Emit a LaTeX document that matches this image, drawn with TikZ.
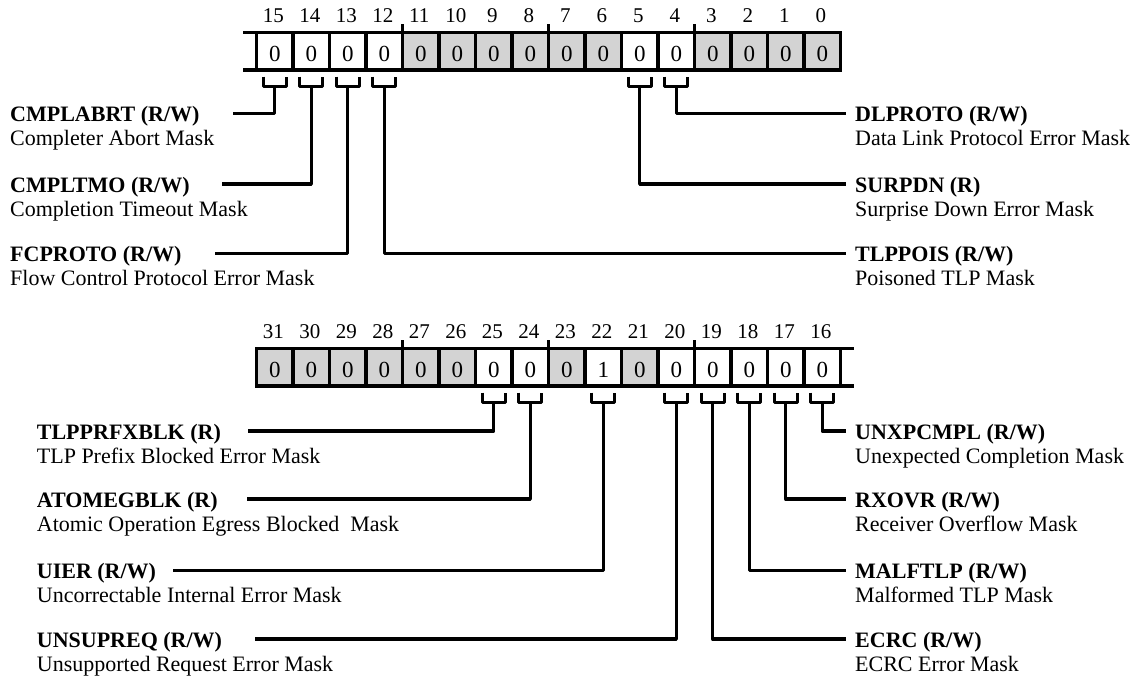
\documentclass[tikz,border=0pt]{standalone}
\usepackage{fontspec}
\setmainfont{Liberation Serif}
\definecolor{regGray}{RGB}{211,211,211}
\begin{document}
\begin{tikzpicture}[x=1pt,y=-1pt,
  reg/.style={line width=3.6pt},
  lead/.style={line width=3.4pt, line join=round},
  cellw/.style={draw, line width=3.6pt, fill=white, minimum width=36.5pt, minimum height=37.7pt,
     inner sep=0pt, outer sep=0pt, text height=19.7pt, text depth=0pt, font=\fontsize{23}{26}\selectfont},
  cellg/.style={cellw, fill=regGray},
  bitnum/.style={anchor=base, inner sep=0pt, font=\fontsize{21}{24}\selectfont},
  fname/.style={anchor=base west, inner sep=0pt, font=\fontsize{22}{24}\selectfont\bfseries},
  fdesc/.style={anchor=base west, inner sep=0pt, font=\fontsize{22}{24}\selectfont},
]
\useasboundingbox (0,0) rectangle (1133,680);

% ---------- upper register (bits 15..0) ----------
\foreach \b/\s in {15/cellw,14/cellw,13/cellw,12/cellw,11/cellg,10/cellg,9/cellg,8/cellg,
                   7/cellg,6/cellg,5/cellw,4/cellw,3/cellg,2/cellg,1/cellg,0/cellg}{
  \pgfmathsetmacro\cx{256.5+(15-\b+0.5)*36.5}
  \node[\s] (t\b) at (\cx,51.15) {0};
  \node[bitnum] (tn\b) at (\cx-1.5,22.5) {\b};
}
\draw[reg] ([xshift=-13.5pt]t15.north west) -- (t15.north west);
\draw[reg] ([xshift=-13.5pt]t15.south west) -- (t15.south west);
\foreach \b in {12,8,4}{
  \draw[reg] (t\b.north east) -- ++(0,-8.3);
}

% ---------- lower register (bits 31..16) ----------
\foreach \b/\s/\v in {31/cellg/0,30/cellg/0,29/cellg/0,28/cellg/0,27/cellg/0,26/cellg/0,
                      25/cellw/0,24/cellw/0,23/cellg/0,22/cellw/1,21/cellg/0,20/cellw/0,
                      19/cellw/0,18/cellw/0,17/cellw/0,16/cellw/0}{
  \pgfmathsetmacro\cx{256.5+(31-\b+0.5)*36.5}
  \node[\s] (u\b) at (\cx,367.15) {\v};
  \node[bitnum] (un\b) at (\cx-1.5,338.5) {\b};
}
\draw[reg] (u16.north east) -- ([xshift=13.5pt]u16.north east);
\draw[reg] (u16.south east) -- ([xshift=13.5pt]u16.south east);
\foreach \b in {28,24,20}{
  \draw[reg] (u\b.north east) -- ++(0,-8.3);
}

% ---------- brackets under the cells ----------
\foreach \b in {15,14,13,12,5,4}{
  \draw[lead] ([xshift=-11.5pt,yshift=-6.7pt]t\b.south) -- ++(0,10) -- ++(23,0) -- ++(0,-10);
  \coordinate (ts\b) at ([yshift=-16.7pt]t\b.south);
}
\foreach \b in {25,24,22,20,19,18,17,16}{
  \draw[lead] ([xshift=-11.5pt,yshift=-6.7pt]u\b.south) -- ++(0,10) -- ++(23,0) -- ++(0,-10);
  \coordinate (us\b) at ([yshift=-16.7pt]u\b.south);
}

% ---------- upper register fields ----------
% left side
\node[fname] (n15) at (10,121.9) {CMPLABRT (R/W)};
\node[fdesc] (d15) at (10,145.9) {Completer Abort Mask};
\coordinate (e15) at (233,113.5);
\node[fname] (n14) at (10,192.4) {CMPLTMO (R/W)};
\node[fdesc] (d14) at (10,216.4) {Completion Timeout Mask};
\coordinate (e14) at (222,184);
\node[fname] (n13) at (10,261.9) {FCPROTO (R/W)};
\node[fdesc] (d13) at (10,285.9) {Flow Control Protocol Error Mask};
\coordinate (e13) at (215,253.5);
% right side
\node[fname] (n4) at (855,121.9) {DLPROTO (R/W)};
\node[fdesc] (d4) at (855,145.9) {Data Link Protocol Error Mask};
\coordinate (e4) at (846,113.5);
\node[fname] (n5) at (855,192.4) {SURPDN (R)};
\node[fdesc] (d5) at (855,216.4) {Surprise Down Error Mask};
\coordinate (e5) at (846,184);
\node[fname] (n12) at (855,261.9) {TLPPOIS (R/W)};
\node[fdesc] (d12) at (855,285.9) {Poisoned TLP Mask};
\coordinate (e12) at (846,253.5);

\foreach \b in {15,14,13,12,5,4}{
  \draw[lead] (ts\b) |- (e\b);
}

% ---------- lower register fields ----------
% left side
\node[fname] (n25) at (36.7,439.4) {TLPPRFXBLK (R)};
\node[fdesc] (d25) at (36.7,463.4) {TLP Prefix Blocked Error Mask};
\coordinate (e25) at (248,431);
\node[fname] (n24) at (36.7,507.4) {ATOMEGBLK (R)};
\node[fdesc] (d24) at (36.7,531.4) {Atomic Operation Egress Blocked\ \ Mask};
\coordinate (e24) at (247,499);
\node[fname] (n22) at (36.7,578.9) {UIER (R/W)};
\node[fdesc] (d22) at (36.7,602.9) {Uncorrectable Internal Error Mask};
\coordinate (e22) at (173,570.5);
\node[fname] (n20) at (36.7,647.4) {UNSUPREQ (R/W)};
\node[fdesc] (d20) at (36.7,671.4) {Unsupported Request Error Mask};
\coordinate (e20) at (255,639);
% right side
\node[fname] (n16) at (855,439.4) {UNXPCMPL (R/W)};
\node[fdesc] (d16) at (855,463.4) {Unexpected Completion Mask};
\coordinate (e16) at (846,431);
\node[fname] (n17) at (855,507.4) {RXOVR (R/W)};
\node[fdesc] (d17) at (855,531.4) {Receiver Overflow Mask};
\coordinate (e17) at (846,499);
\node[fname] (n18) at (855,578.9) {MALFTLP (R/W)};
\node[fdesc] (d18) at (855,602.9) {Malformed TLP Mask};
\coordinate (e18) at (846,570.5);
\node[fname] (n19) at (855,647.4) {ECRC (R/W)};
\node[fdesc] (d19) at (855,671.4) {ECRC Error Mask};
\coordinate (e19) at (846,639);

\foreach \b in {25,24,22,20,19,18,17,16}{
  \draw[lead] (us\b) |- (e\b);
}
\end{tikzpicture}
\end{document}
